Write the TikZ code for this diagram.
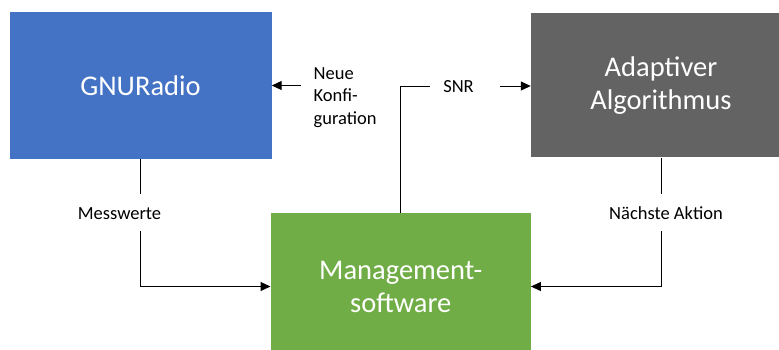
\documentclass[tikz,border=0pt]{standalone}
\usepackage{fontspec}
\setmainfont{Carlito}
\usetikzlibrary{arrows.meta}
\definecolor{gblue}{HTML}{4472C4}
\definecolor{ggray}{HTML}{636363}
\definecolor{ggreen}{HTML}{70AD47}
\begin{document}
\begin{tikzpicture}[x=1pt,y=-1pt,
  box/.style={rectangle, draw=none, text=white, align=center, font=\fontsize{28.5}{33}\selectfont, inner sep=0},
  lblfont/.style={font=\fontsize{18.5}{22.5}\selectfont, inner sep=0},
  lbl/.style={lblfont, text height=13pt, text depth=0pt},
  conn/.style={line width=1pt, draw=black},
  arr/.style={conn, -{Triangle[length=10pt,width=9pt]}}]
\useasboundingbox (0,0) rectangle (779,349);
% boxes
\node[box, fill=gblue, minimum width=262pt, minimum height=147pt] (g) at (140.5,85.5) {GNURadio};
\node[box, fill=ggray, minimum width=260pt, minimum height=144pt] (a) at (661,85.3) {Adaptiver\\Algorithmus};
\node[box, fill=ggreen, minimum width=260pt, minimum height=146.4pt] (m) at (400.7,286.5) {Management-\\software};
% labels on the top connectors
\node[lbl] (s) at (458.5,86) {SNR};
\node[lblfont, align=left, anchor=north west] (n) at (313.5,67) {Neue\\Konfi-\\guration};
\coordinate (nk) at ([xshift=-12.8pt]n.west);
% connectors
\draw[arr] (g.south) |- (m.west);
\draw[arr] (a.south) |- (m.east);
\draw[conn] (m.north) |- ([xshift=-13pt]s.west);
\draw[arr] ([xshift=26pt]s.east) -- (a.west |- s.east);
\draw[arr] (nk |- g.east) -- (g.east);
% labels covering the side connectors
\node[lbl, fill=white, minimum height=37pt, inner xsep=2pt] (mw) at (119.5,212.5) {Messwerte};
\node[lbl, fill=white, minimum height=37pt, inner xsep=2pt] (na) at (666,212.5) {Nächste Aktion};
\end{tikzpicture}
\end{document}
